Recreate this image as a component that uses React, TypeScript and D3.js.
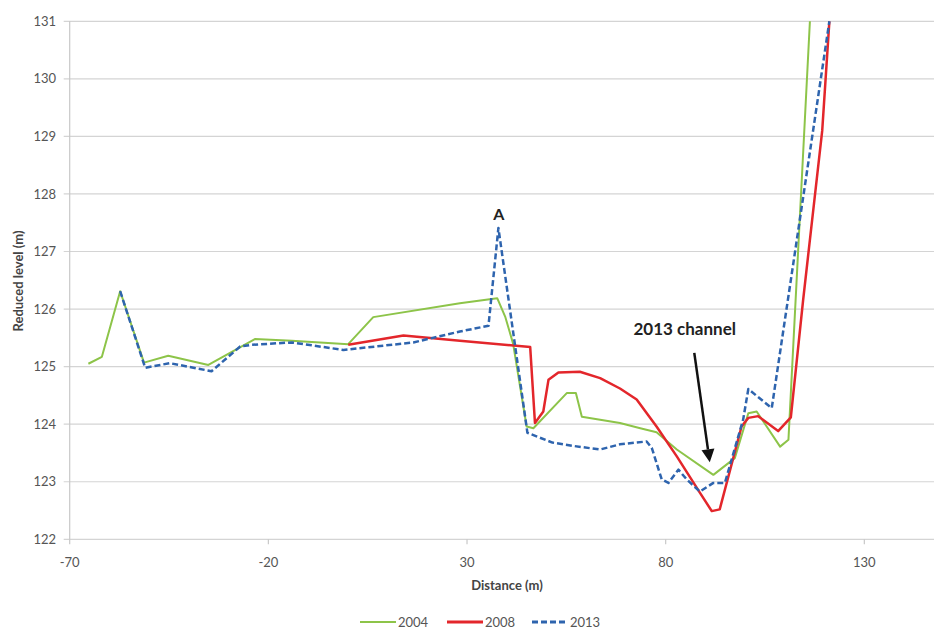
import React from "react";
import * as d3 from "d3";

// Cross-section survey profiles: distance along section (m) vs reduced level (m)
const distance2004 = [-65.3, -61.9, -57.3, -51.3, -45.2, -35.1, -23.4, -14.1, 0.1, 6.4, 28.2, 37.6, 39.6, 41.6, 45.0, 46.7, 55.1, 57.4, 58.9, 68.5, 73.6, 77.7, 82.8, 92.0, 97.4, 100.8, 102.9, 108.8, 110.9, 116.3];
const level2004 = [125.05, 125.17, 126.31, 125.07, 125.19, 125.03, 125.48, 125.45, 125.39, 125.86, 126.1, 126.19, 125.87, 125.4, 123.96, 123.93, 124.54, 124.54, 124.13, 124.02, 123.93, 123.86, 123.56, 123.12, 123.41, 124.19, 124.22, 123.61, 123.73, 131.0];

const distance2008 = [0.1, 14.0, 28.2, 45.9, 47.1, 49.2, 50.5, 53.0, 58.4, 63.5, 68.5, 72.7, 77.7, 82.8, 88.6, 91.6, 93.6, 99.1, 100.8, 103.3, 108.3, 111.5, 114.6, 119.4, 121.2];
const level2008 = [125.38, 125.54, 125.45, 125.34, 124.02, 124.22, 124.77, 124.9, 124.91, 124.8, 124.62, 124.43, 123.96, 123.44, 122.81, 122.49, 122.52, 123.96, 124.11, 124.14, 123.88, 124.12, 126.16, 129.1, 131.0];

const distance2013 = [-57.3, -51.0, -44.8, -34.3, -27.1, -24.2, -14.1, -1.1, 16.5, 28.2, 35.4, 37.9, 45.2, 51.5, 57.0, 63.5, 68.5, 75.2, 76.5, 79.0, 80.7, 83.2, 85.3, 88.6, 92.0, 94.9, 99.5, 100.8, 106.7, 121.2];
const level2013 = [126.31, 124.98, 125.06, 124.92, 125.35, 125.38, 125.42, 125.29, 125.42, 125.61, 125.71, 127.41, 123.85, 123.68, 123.62, 123.56, 123.65, 123.7, 123.59, 123.04, 122.98, 123.21, 123.04, 122.83, 122.98, 122.98, 124.08, 124.61, 124.28, 131.0];

const xTicks = [-70, -20, 30, 80, 130];
const yTicks = [122, 123, 124, 125, 126, 127, 128, 129, 130, 131];

const seriesNames = ["2004", "2008", "2013"];

// Annotation anchors in data units
const labelA = { x: 38.0, y: 127.64, text: "A" };
const channelLabel = { x: 84.8, y: 125.65, text: "2013 channel" };
const channelArrow = { x1: 87.2, y1: 125.24, x2: 91.1, y2: 123.34 };

const W = 934;
const H = 632;
const FONT = "Lato, 'Open Sans', sans-serif";

export default function App() {
  const x = d3.scaleLinear().domain([-70, 150]).range([69.7, 943.8]);
  const y = d3.scaleLinear().domain([122, 131]).range([539.3, 21.3]);

  const line = d3
    .line<[number, number]>()
    .x((d) => x(d[0]))
    .y((d) => y(d[1]));

  const series = [
    { name: seriesNames[0], xs: distance2004, ys: level2004, color: "#8DC449", width: 2, dash: undefined as string | undefined },
    { name: seriesNames[1], xs: distance2008, ys: level2008, color: "#E3262B", width: 2.5, dash: undefined },
    { name: seriesNames[2], xs: distance2013, ys: level2013, color: "#2E64AE", width: 2.5, dash: "6,3" },
  ];

  const left = x(-70);
  const top = y(131);
  const bottom = y(122);

  // arrow geometry
  const ax1 = x(channelArrow.x1);
  const ay1 = y(channelArrow.y1);
  const ax2 = x(channelArrow.x2);
  const ay2 = y(channelArrow.y2);
  const ang = Math.atan2(ay2 - ay1, ax2 - ax1);
  const headLen = 13;
  const headHalf = 6.5;
  const bx = ax2 - headLen * Math.cos(ang);
  const by = ay2 - headLen * Math.sin(ang);
  const px = -Math.sin(ang);
  const py = Math.cos(ang);
  const head = `M${ax2},${ay2} L${bx + px * headHalf},${by + py * headHalf} L${bx - px * headHalf},${by - py * headHalf} Z`;

  const legendItems = [
    { x0: 360, color: series[0].color, width: 2, dash: undefined as string | undefined, label: "2004" },
    { x0: 447, color: series[1].color, width: 3, dash: undefined, label: "2008" },
    { x0: 532, color: series[2].color, width: 3, dash: "6,3", label: "2013" },
  ];

  return (
    <svg
      width={W}
      height={H}
      style={{ position: "absolute", left: 0, top: 0, background: "#fff" }}
      fontFamily={FONT}
    >
      <defs>
        <clipPath id="plot-clip">
          <rect x={left} y={top - 1} width={W - left} height={bottom - top + 2} />
        </clipPath>
      </defs>

      {/* horizontal gridlines */}
      {yTicks.map((t) => (
        <line key={t} x1={left - 6} x2={W} y1={y(t)} y2={y(t)} stroke="#D4D4D4" strokeWidth={1.2} />
      ))}

      {/* y axis line */}
      <line x1={left} x2={left} y1={top} y2={bottom} stroke="#C8C8C8" strokeWidth={1.2} />

      {/* x tick marks */}
      {xTicks.map((t) => (
        <line key={t} x1={x(t)} x2={x(t)} y1={bottom} y2={bottom + 5} stroke="#C8C8C8" strokeWidth={1.2} />
      ))}

      {/* y tick labels */}
      {yTicks.map((t) => (
        <text key={t} x={56} y={y(t)} dy="0.35em" textAnchor="end" fontSize={13} fill="#555">
          {t}
        </text>
      ))}

      {/* x tick labels */}
      {xTicks.map((t) => (
        <text key={t} x={x(t)} y={562} dy="0.35em" textAnchor="middle" fontSize={13} fill="#555">
          {t}
        </text>
      ))}

      {/* axis titles */}
      <text x={507} y={585} dy="0.35em" textAnchor="middle" fontSize={13} fontWeight="bold" fill="#444">
        Distance (m)
      </text>
      <text
        transform={`translate(18,281) rotate(-90)`}
        textAnchor="middle"
        dy="0.35em"
        fontSize={13}
        fontWeight="bold"
        fill="#444"
      >
        Reduced level (m)
      </text>

      {/* profiles */}
      <g clipPath="url(#plot-clip)">
        {series.map((s) => (
          <path
            key={s.name}
            d={line(s.xs.map((d, i) => [d, s.ys[i]] as [number, number])) || ""}
            fill="none"
            stroke={s.color}
            strokeWidth={s.width}
            strokeDasharray={s.dash}
            strokeLinejoin="round"
          />
        ))}
      </g>

      {/* annotations */}
      <text x={x(labelA.x)} y={y(labelA.y)} dy="0.35em" textAnchor="middle" fontSize={16} fontWeight="bold" fill="#222">
        {labelA.text}
      </text>
      <text
        x={x(channelLabel.x)}
        y={y(channelLabel.y)}
        dy="0.35em"
        textAnchor="middle"
        fontSize={17}
        fontWeight="bold"
        fill="#222"
      >
        {channelLabel.text}
      </text>
      <line x1={ax1} y1={ay1} x2={bx} y2={by} stroke="#111" strokeWidth={2.5} />
      <path d={head} fill="#111" />

      {/* legend */}
      {legendItems.map((it) => (
        <g key={it.label}>
          <line
            x1={it.x0}
            x2={it.x0 + 36}
            y1={622}
            y2={622}
            stroke={it.color}
            strokeWidth={it.width}
            strokeDasharray={it.dash}
          />
          <text x={it.x0 + 38} y={622} dy="0.35em" fontSize={13} fill="#555">
            {it.label}
          </text>
        </g>
      ))}
    </svg>
  );
}
